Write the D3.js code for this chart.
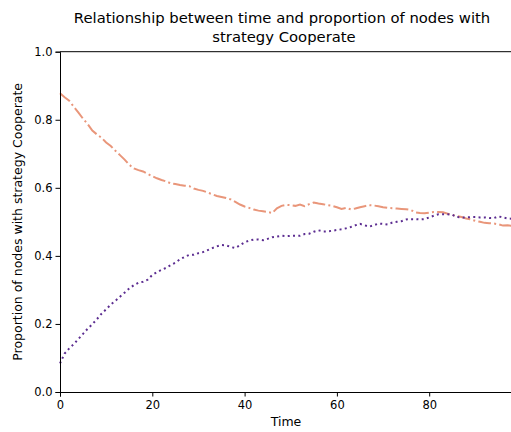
<!DOCTYPE html>
<html>
<head>
<meta charset="utf-8">
<script src="https://cdn.jsdelivr.net/npm/d3@7"></script>
<style>
  body { margin: 0; background: #fff; }
  text { font-family: "DejaVu Sans", sans-serif; fill: #000; }
</style>
</head>
<body>
<div id="chart"></div>
<script>
var width = 511, height = 432;
var margin = {top: 51.7, left: 60, bottom: 40};

// proportion of nodes with strategy Cooperate, t = 0..98
var time = d3.range(0, 99);
var series_a = [0.878, 0.866, 0.856, 0.838, 0.821, 0.803, 0.787, 0.768, 0.757, 0.747,
  0.733, 0.723, 0.709, 0.696, 0.683, 0.668, 0.657, 0.652, 0.648, 0.641,
  0.634, 0.628, 0.623, 0.619, 0.613, 0.611, 0.608, 0.606, 0.605, 0.598,
  0.594, 0.591, 0.586, 0.581, 0.576, 0.573, 0.570, 0.566, 0.559, 0.551,
  0.545, 0.541, 0.536, 0.533, 0.531, 0.529, 0.526, 0.540, 0.547, 0.550,
  0.549, 0.547, 0.551, 0.546, 0.552, 0.557, 0.554, 0.552, 0.549, 0.547,
  0.543, 0.538, 0.541, 0.537, 0.539, 0.543, 0.546, 0.549, 0.548, 0.546,
  0.543, 0.541, 0.540, 0.539, 0.538, 0.537, 0.535, 0.528, 0.526, 0.525,
  0.527, 0.529, 0.529, 0.528, 0.524, 0.520, 0.517, 0.514, 0.510, 0.507,
  0.503, 0.500, 0.497, 0.496, 0.495, 0.493, 0.489, 0.490, 0.488];
var series_b = [0.084, 0.113, 0.128, 0.141, 0.156, 0.171, 0.186, 0.199, 0.214, 0.230,
  0.243, 0.257, 0.268, 0.280, 0.292, 0.304, 0.314, 0.321, 0.324, 0.330,
  0.344, 0.352, 0.359, 0.365, 0.373, 0.380, 0.390, 0.397, 0.403, 0.403,
  0.408, 0.411, 0.417, 0.423, 0.428, 0.432, 0.431, 0.426, 0.423, 0.431,
  0.440, 0.445, 0.448, 0.448, 0.446, 0.450, 0.455, 0.457, 0.459, 0.458,
  0.459, 0.459, 0.459, 0.464, 0.465, 0.471, 0.475, 0.472, 0.472, 0.474,
  0.476, 0.478, 0.481, 0.485, 0.490, 0.494, 0.490, 0.486, 0.490, 0.495,
  0.494, 0.492, 0.498, 0.500, 0.502, 0.507, 0.508, 0.508, 0.507, 0.508,
  0.513, 0.518, 0.522, 0.522, 0.522, 0.521, 0.514, 0.513, 0.513, 0.514,
  0.514, 0.513, 0.513, 0.511, 0.511, 0.516, 0.513, 0.510, 0.509];
var x_ticks = [0, 20, 40, 60, 80];
var y_ticks = [0, 0.2, 0.4, 0.6, 0.8, 1.0];

var svg = d3.select("#chart")
  .append("svg")
  .attr("width", width)
  .attr("height", height);

var x = d3.scaleLinear().domain([0, 98]).range([margin.left, 60 + 98 * 4.615]);
var y = d3.scaleLinear().domain([0, 1]).range([height - margin.bottom, margin.top]);

var line = d3.line()
  .x((d, i) => x(time[i]))
  .y(d => y(d));

svg.append("path")
  .datum(series_a)
  .attr("d", line)
  .attr("fill", "none")
  .attr("stroke", "#e9967a")
  .attr("stroke-width", 2)
  .attr("stroke-dasharray", "12.8,3.2,2,3.2");

svg.append("path")
  .datum(series_b)
  .attr("d", line)
  .attr("fill", "none")
  .attr("stroke", "#5c2d91")
  .attr("stroke-width", 2)
  .attr("stroke-dasharray", "2,3.3");

var x_axis = svg.append("g")
  .attr("transform", "translate(0," + y(0) + ")")
  .call(d3.axisBottom(x).tickValues(x_ticks).tickSize(4.5).tickPadding(4).tickFormat(d3.format("d")));
var y_axis = svg.append("g")
  .attr("transform", "translate(" + x(0) + ",0)")
  .call(d3.axisLeft(y).tickValues(y_ticks).tickSize(4.5).tickPadding(3).tickFormat(d3.format(".1f")));

[x_axis, y_axis].forEach(function(g) {
  g.selectAll("text").style("font-size", "11.5px").style("font-family", "DejaVu Sans");
  g.select(".domain").attr("stroke-width", 1);
});

// top spine
svg.append("line")
  .attr("x1", x(0)).attr("x2", width + 5)
  .attr("y1", y(1)).attr("y2", y(1))
  .attr("stroke", "#000").attr("stroke-width", 1);

svg.append("text")
  .attr("x", 286).attr("y", 426)
  .attr("text-anchor", "middle")
  .style("font-size", "12.5px")
  .text("Time");

svg.append("text")
  .attr("transform", "translate(22," + (y(0.5)) + ")rotate(-90)")
  .attr("text-anchor", "middle")
  .style("font-size", "12.5px")
  .text("Proportion of nodes with strategy Cooperate");

svg.append("text")
  .attr("x", 282).attr("y", 23)
  .attr("text-anchor", "middle")
  .style("font-size", "14.8px")
  .text("Relationship between time and proportion of nodes with");
svg.append("text")
  .attr("x", 284).attr("y", 42)
  .attr("text-anchor", "middle")
  .style("font-size", "14.8px")
  .text("strategy Cooperate");
</script>
</body>
</html>
